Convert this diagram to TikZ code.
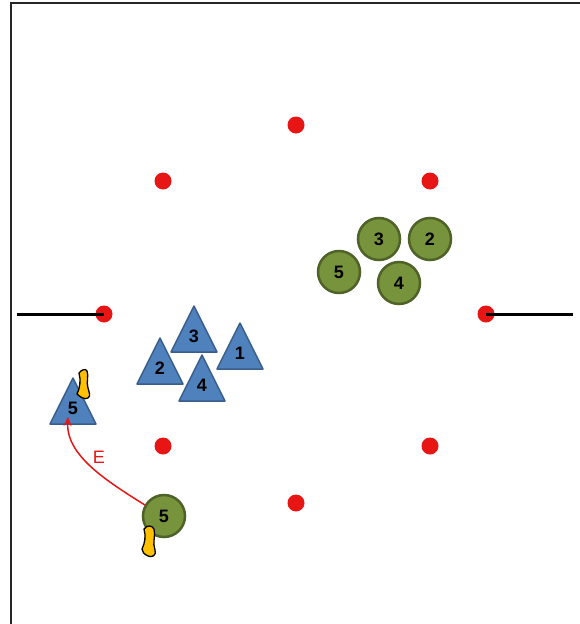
\documentclass[tikz,border=0pt]{standalone}
\usepackage{fontspec}
\setmainfont{Liberation Sans}
\usetikzlibrary{arrows.meta}
\definecolor{cone}{HTML}{E81515}
\definecolor{greenfill}{HTML}{77933C}
\definecolor{greenedge}{HTML}{4F6228}
\definecolor{bluefill}{HTML}{4F81BD}
\definecolor{blueedge}{HTML}{385D8A}
\definecolor{bib}{HTML}{FFC000}
\tikzset{
  dot/.style={circle,fill=cone,inner sep=0pt,minimum size=17pt},
  gplayer/.style={circle,fill=greenfill,draw=greenedge,line width=2.5pt,minimum size=42pt,inner sep=0pt,font=\bfseries\fontsize{18}{18}\selectfont},
  tri/.style={fill=bluefill,draw=blueedge,line width=1.5pt,line join=round},
  num/.style={inner sep=0pt,font=\bfseries\fontsize{18}{18}\selectfont},
  bibstyle/.style={fill=bib,draw=black,line width=1.3pt,line join=round},
  sideline/.style={line width=3pt,black},
  frame/.style={line width=2pt,black!85},
}
\newcommand\bluetri[3]{%
  \draw[tri] (#1,#2) -- ++(-23,46) -- ++(46,0) -- cycle;
  \node[num] (t#3) at ({#1},{#2+30}) {#3};
}
\begin{document}
\begin{tikzpicture}[x=1pt,y=-1pt]
\useasboundingbox (0,0) rectangle (580,624);
\draw[frame] (11,624) -- (11,3) -- (580,3);
% side lines
\coordinate (lend) at (17,314);
\coordinate (rend) at (573,314);
% cones
\node[dot] (d1) at (296,125) {};
\node[dot] (d2) at (163,181) {};
\node[dot] (d3) at (430,181) {};
\node[dot] (d4) at (104,314) {};
\node[dot] (d5) at (486,314) {};
\node[dot] (d6) at (163,446) {};
\node[dot] (d7) at (430,446) {};
\node[dot] (d8) at (296,503) {};
\draw[sideline] (lend) -- (d4.center);
\draw[sideline] (d5.center) -- (rend);
% green players
\node[gplayer] (g3) at (379,239) {3};
\node[gplayer] (g2) at (430,239) {2};
\node[gplayer] (g5) at (339,272) {5};
\node[gplayer] (g4) at (399,283) {4};
% blue players
\bluetri{194}{306}{3}
\bluetri{240}{323}{1}
\bluetri{160}{338}{2}
\bluetri{202}{355}{4}
\bluetri{73}{378}{5}
% bib on blue 5
\draw[bibstyle] (79,373) .. controls (81,370) and (86,368) .. (87,371)
  .. controls (89,376) and (86,382) .. (88,388)
  .. controls (89,392) and (91,396) .. (88,398)
  .. controls (85,400) and (80,397) .. (77,394)
  .. controls (80,388) and (81,380) .. (79,373) -- cycle;
% green 5 with bib
\node[gplayer] (gb5) at (164,516) {5};
\draw[bibstyle] (144,529) .. controls (147,525) and (152,525) .. (154,529)
  .. controls (156,535) and (152,543) .. (155,550)
  .. controls (157,555) and (152,558) .. (148,556)
  .. controls (144,554) and (142,552) .. (142,549)
  .. controls (145,543) and (146,536) .. (144,529) -- cycle;
% arrow
\coordinate (tip) at (68,417);
\draw[cone,line width=1.5pt,-{Stealth[length=9pt,width=8pt]}] (gb5.150) .. controls (105,480) and (66,455) .. (tip);
\node[text=cone,font=\fontsize{18}{18}\selectfont] (E) at (99,457) {E};
\end{tikzpicture}
\end{document}
